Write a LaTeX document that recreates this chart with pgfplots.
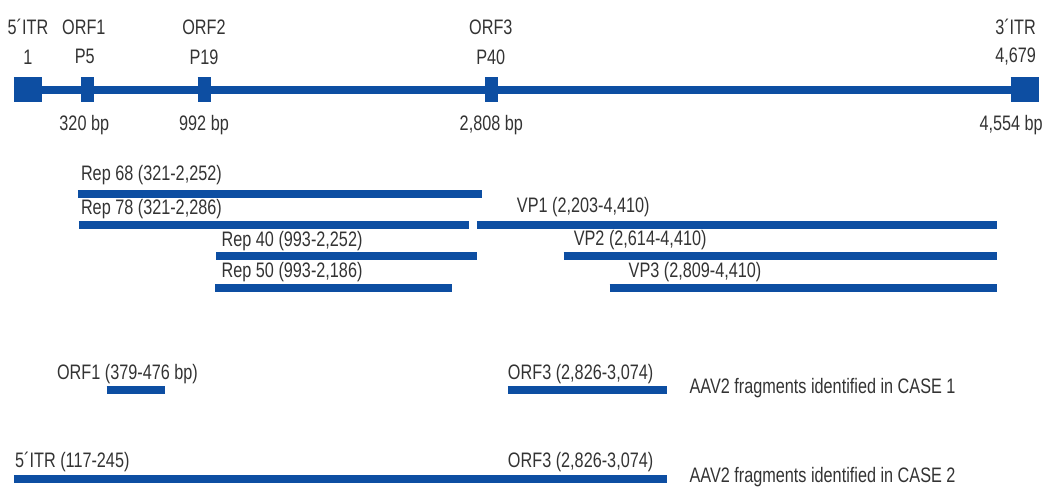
\documentclass[border=0pt]{standalone}
\usepackage{pgfplots}
\pgfplotsset{compat=1.18}
\usepackage{fontspec}
\setmainfont{Liberation Sans}[FakeStretch=0.775]
\definecolor{aav}{HTML}{0D4EA2}
\definecolor{txt}{HTML}{333333}
\begin{document}
\begin{tikzpicture}
\begin{axis}[
  width=1051bp, height=487bp, scale only axis,
  xmin=0, xmax=1051, ymin=0, ymax=487, y dir=reverse,
  hide axis, clip=false,
  every axis plot/.style={aav, line cap=butt},
  nodes={inner sep=0pt, text=txt, font=\fontsize{21bp}{24bp}\selectfont},
]
% keep the full frame as the page
\path (axis cs:0,0) rectangle (axis cs:1051,487);
% genome backbone
\addplot[line width=8bp] coordinates {(14,90) (1041,90)};
% ITRs and promoters
\addplot[line width=25bp] coordinates {(14,89.5) (42,89.5)};
\addplot[line width=25bp] coordinates {(81,89.5) (94,89.5)};
\addplot[line width=25bp] coordinates {(198,89.5) (211,89.5)};
\addplot[line width=25bp] coordinates {(486,89.5) (499,89.5)};
\addplot[line width=25bp] coordinates {(1013,89.5) (1041,89.5)};

% Rep / VP proteins
\addplot[line width=8bp] coordinates {(78,194) (483,194)};
\addplot[line width=8bp] coordinates {(79,226) (470,226)};
\addplot[line width=8bp] coordinates {(478,226) (999,226)};
\addplot[line width=8bp] coordinates {(217,257) (478,257)};
\addplot[line width=8bp] coordinates {(565,257) (999,257)};
\addplot[line width=8bp] coordinates {(216,289) (453,289)};
\addplot[line width=8bp] coordinates {(611,289) (999,289)};

% fragments
\addplot[line width=8bp] coordinates {(107,391) (165,391)};
\addplot[line width=8bp] coordinates {(509,391) (669,391)};
\addplot[line width=8bp] coordinates {(14,480) (669,480)};

% top labels
\node at (axis cs:28,27) {5´ITR};
\node at (axis cs:28,57) {1};
\node at (axis cs:84,27) {ORF1};
\node at (axis cs:85,57) {P5};
\node at (axis cs:204.5,27) {ORF2};
\node at (axis cs:204.5,57) {P19};
\node at (axis cs:492,27) {ORF3};
\node at (axis cs:492,57) {P40};
\node at (axis cs:1018,27) {3´ITR};
\node at (axis cs:1018,57) {4,679};
\node at (axis cs:84.5,125) {320 bp};
\node at (axis cs:204.5,125) {992 bp};
\node at (axis cs:492.5,125) {2,808 bp};
\node at (axis cs:1013.5,125) {4,554 bp};

% protein labels
\node[anchor=west] at (axis cs:81,175) {Rep 68 (321-2,252)};
\node[anchor=west] at (axis cs:81,210) {Rep 78 (321-2,286)};
\node[anchor=west] at (axis cs:222,242) {Rep 40 (993-2,252)};
\node[anchor=west] at (axis cs:222,273) {Rep 50 (993-2,186)};
\node[anchor=west] at (axis cs:518,208) {VP1 (2,203-4,410)};
\node[anchor=west] at (axis cs:575,241) {VP2 (2,614-4,410)};
\node[anchor=west] at (axis cs:630,273) {VP3 (2,809-4,410)};

% fragment labels
\node[anchor=west] at (axis cs:57,375) {ORF1 (379-476 bp)};
\node[anchor=west] at (axis cs:509,375) {ORF3 (2,826-3,074)};
\node[anchor=west] at (axis cs:691,389) {AAV2 fragments identified in CASE 1};
\node[anchor=west] at (axis cs:15,463) {5´ITR (117-245)};
\node[anchor=west] at (axis cs:509,463) {ORF3 (2,826-3,074)};
\node[anchor=west] at (axis cs:691,478) {AAV2 fragments identified in CASE 2};
\end{axis}
\end{tikzpicture}
\end{document}
